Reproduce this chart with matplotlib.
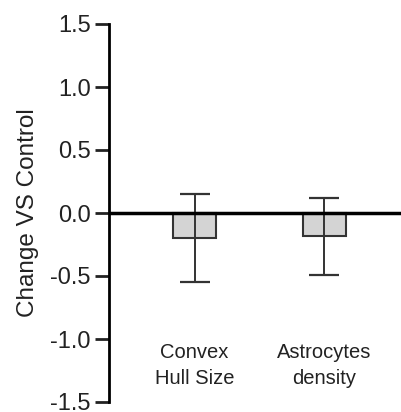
import matplotlib.pyplot as plt

# data
categories = ["Convex\nHull Size", "Astrocytes\ndensity"]
means = [-0.20, -0.185]
err_low = [0.345, 0.305]
err_high = [0.347, 0.303]
yticks = [-1.5, -1.0, -0.5, 0.0, 0.5, 1.0, 1.5]

plt.rcParams['font.family'] = ['Liberation Sans', 'DejaVu Sans']

fig = plt.figure(figsize=(4.02, 4.12), dpi=100)
ax = fig.add_axes([108.7 / 402, 10 / 412, 1 - 108.7 / 402, (402 - 24) / 412])

x = [1, 2]
ax.bar(x, means, width=0.33, color='#d4d4d4', edgecolor='#333333', linewidth=1.5, zorder=2)
ax.errorbar(x, means, yerr=[err_low, err_high], fmt='none', ecolor='#333333',
            elinewidth=1.4, capsize=10.5, capthick=1.6, zorder=3)
ax.axhline(0, color='black', linewidth=2.5, zorder=4)

ax.set_xlim(0.338, 2.6)
ax.set_ylim(-1.5, 1.5)
ax.set_yticks(yticks)
ax.set_yticklabels([f"{v:.1f}" for v in yticks])
ax.set_xticks([])

for s in ['top', 'right', 'bottom']:
    ax.spines[s].set_visible(False)
ax.spines['left'].set_linewidth(2)
ax.tick_params(axis='y', length=10, width=2, labelsize=17, pad=3, colors='#222222')

for xi, lab in zip(x, categories):
    ax.text(xi, -1.21, lab, ha='center', va='center', fontsize=14.5,
            color='#222222', linespacing=1.45)

ax.set_ylabel("Change VS Control", fontsize=17.5, color='#222222', labelpad=8)

fig.savefig('out.png', dpi=100)
